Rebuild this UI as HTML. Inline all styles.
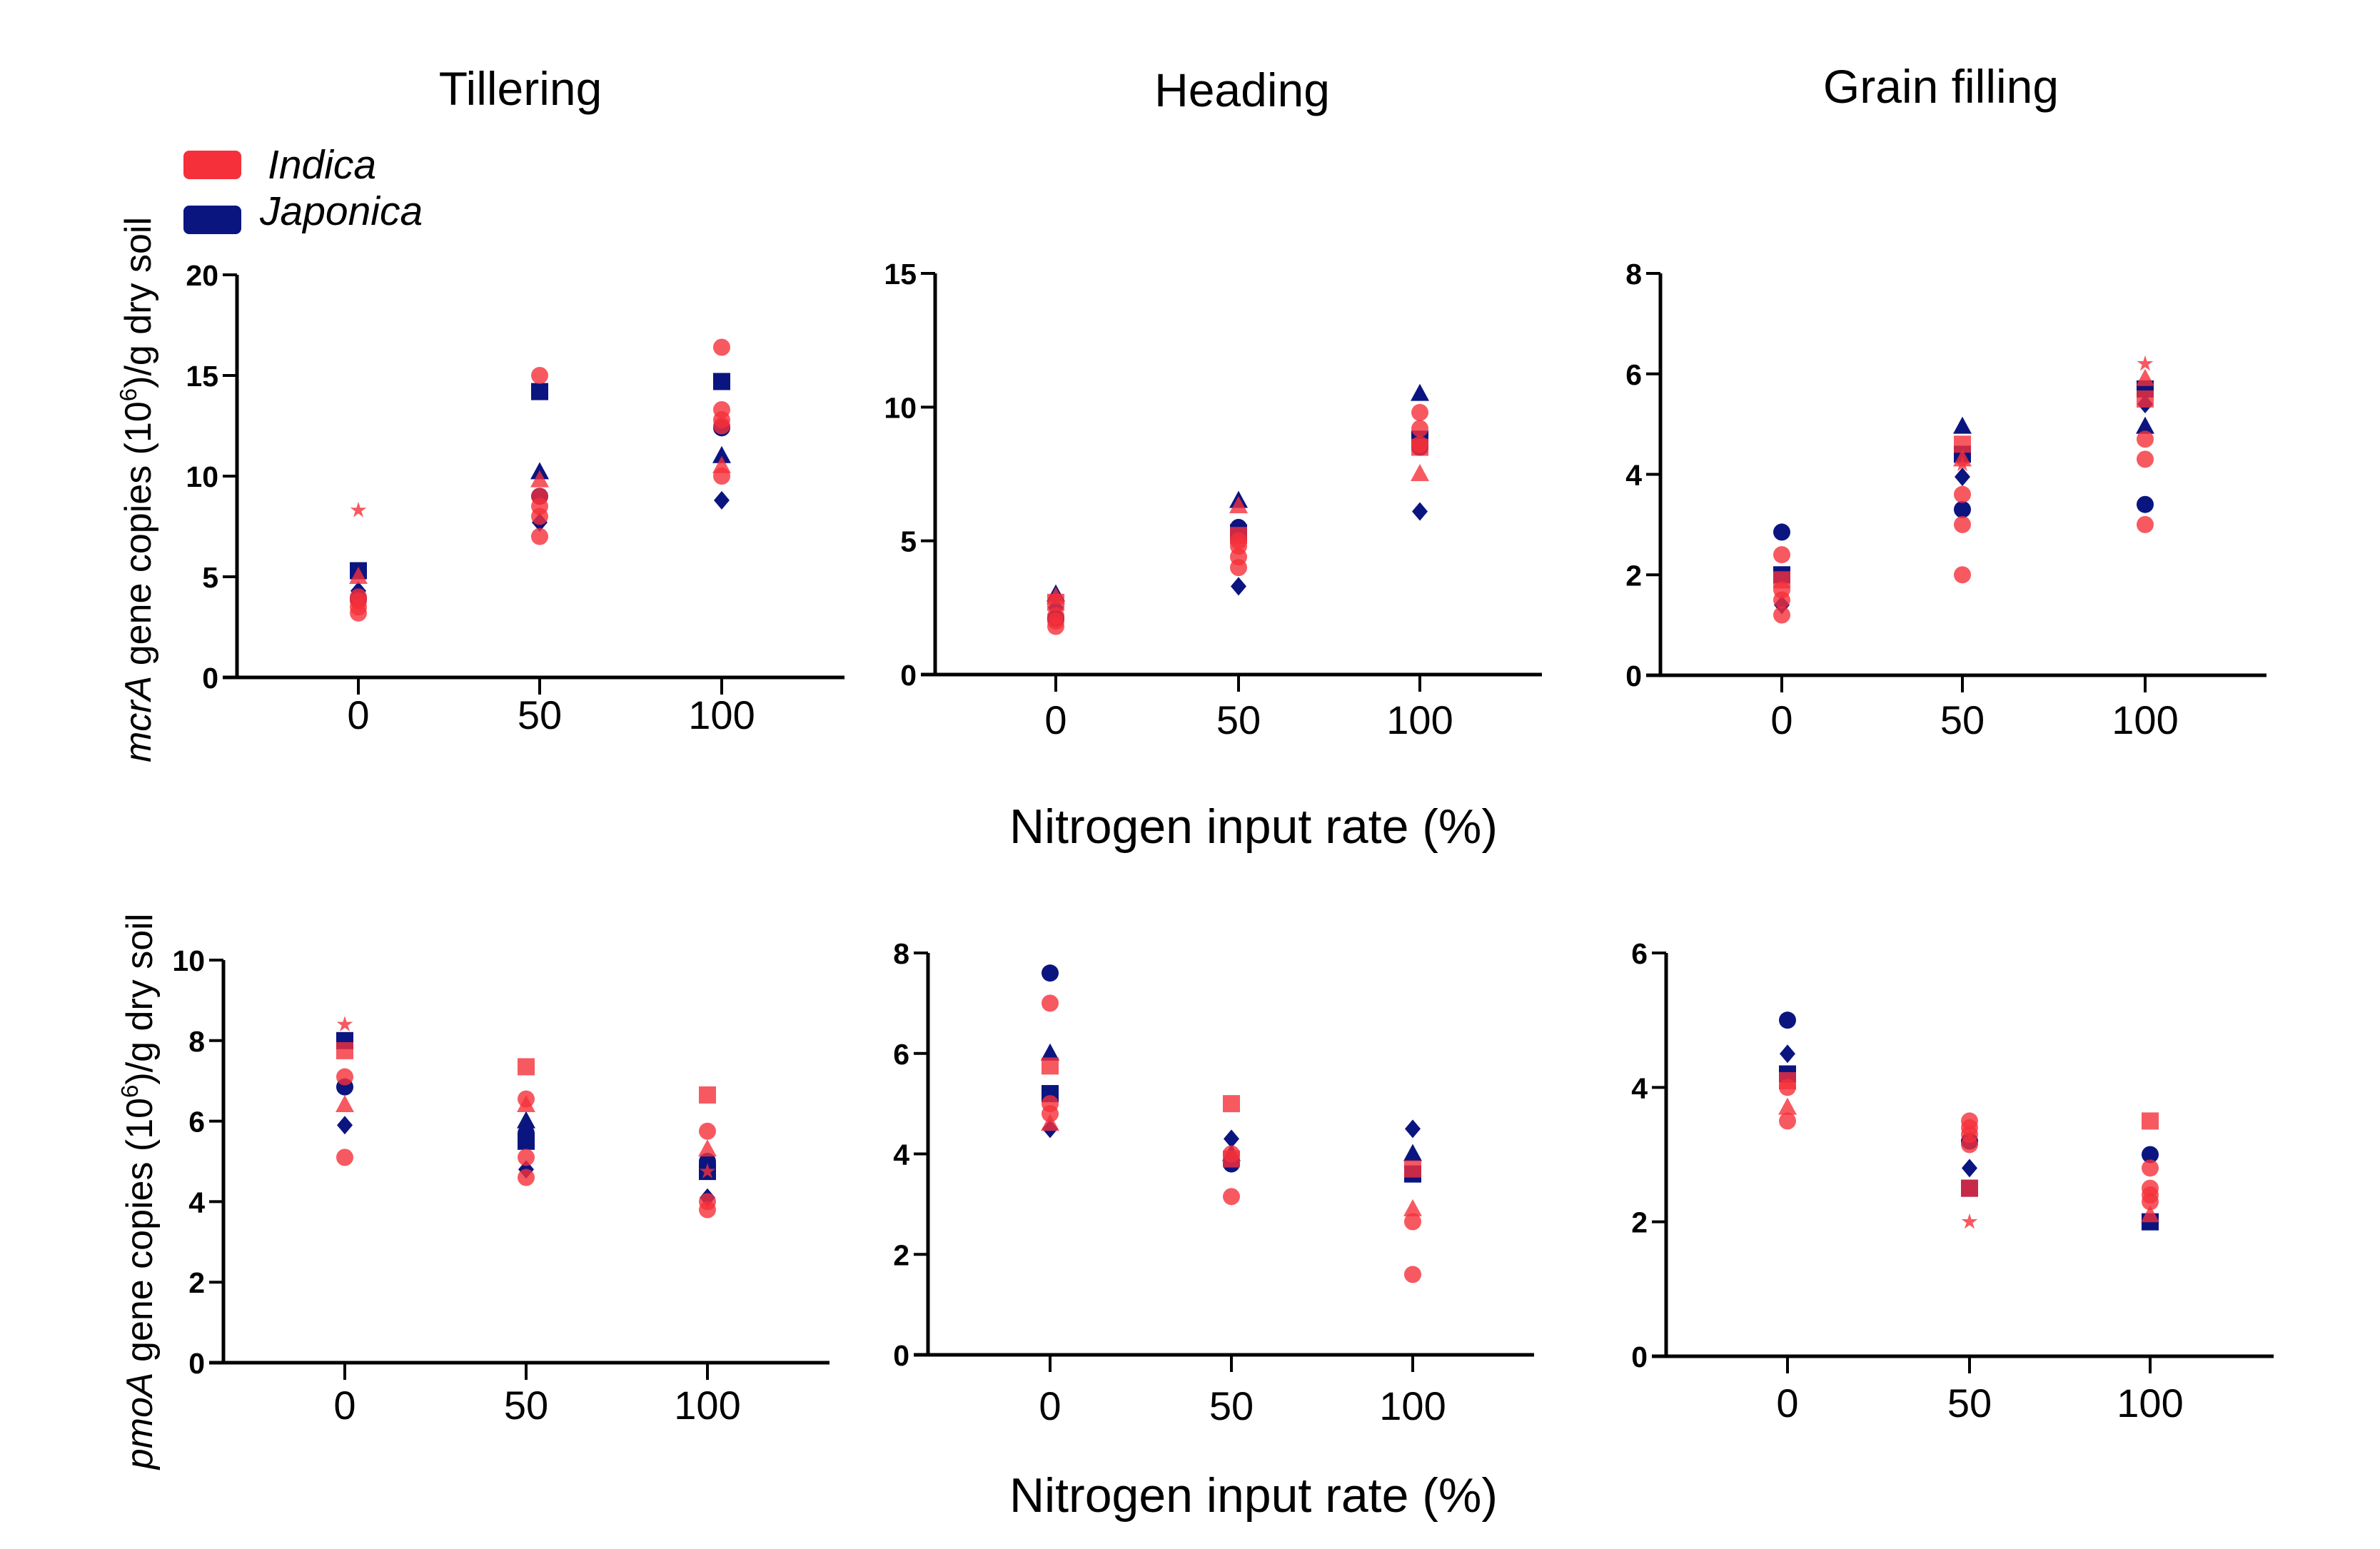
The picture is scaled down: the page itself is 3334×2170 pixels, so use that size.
<!DOCTYPE html>
<html><head><meta charset="utf-8"><style>
html,body{margin:0;padding:0;background:#fff;}
svg{display:block;font-family:"Liberation Sans",Arial,sans-serif;}
</style></head><body>
<svg id="fig" width="3334" height="2170" viewBox="0 0 3334 2170" xmlns="http://www.w3.org/2000/svg">
<rect width="3334" height="2170" fill="#fff"/>
<text x="729" y="147" font-size="66" text-anchor="middle">Tillering</text>
<text x="1740" y="149" font-size="66" text-anchor="middle">Heading</text>
<text x="2719" y="144" font-size="66" text-anchor="middle">Grain filling</text>
<g>
<rect x="257" y="211" width="81" height="40" rx="8" fill="#f5303a"/>
<text x="375" y="250" font-size="57" font-style="italic">Indica</text>
<rect x="257" y="288" width="81" height="40" rx="8" fill="#0b1580"/>
<text x="364" y="315" font-size="57" font-style="italic">Japonica</text>
</g>
<text transform="translate(211,686) rotate(-90)" font-size="52" text-anchor="middle"><tspan font-style="italic">mcrA</tspan> gene copies (10<tspan font-size="33" dy="-20">6</tspan><tspan dy="20">)/g dry soil</tspan></text>
<text transform="translate(213,1669) rotate(-90)" font-size="52" text-anchor="middle"><tspan font-style="italic">pmoA</tspan> gene copies (10<tspan font-size="33" dy="-20">6</tspan><tspan dy="20">)/g dry soil</tspan></text>
<text x="1756" y="1181" font-size="68" text-anchor="middle">Nitrogen input rate (%)</text>
<text x="1756" y="2118" font-size="68" text-anchor="middle">Nitrogen input rate (%)</text>
</svg>
<script>
const xCategories = [0, 50, 100];
const xTickLabels = ["0", "50", "100"];
// each point: [nitrogen rate, value, marker]
const mcrTillIndica = [[0,8.3,'star'],[0,3.2,'circle'],[0,3.5,'circle'],[0,3.8,'circle'],[0,4.0,'circle'],[0,5.0,'triangle'],[50,15.0,'circle'],[50,7.0,'circle'],[50,8.0,'circle'],[50,8.5,'circle'],[50,9.0,'circle'],[50,9.8,'triangle'],[100,16.4,'circle'],[100,13.3,'circle'],[100,12.8,'circle'],[100,12.5,'circle'],[100,10.0,'circle'],[100,10.5,'triangle']];
const mcrTillJaponica = [[0,5.3,'square'],[0,4.3,'diamond'],[0,3.9,'circle'],[50,14.2,'square'],[50,10.2,'triangle'],[50,9.0,'circle'],[50,7.7,'diamond'],[100,14.7,'square'],[100,12.4,'circle'],[100,11.0,'triangle'],[100,8.8,'diamond']];
const mcrHeadIndica = [[0,1.8,'circle'],[0,2.0,'circle'],[0,2.2,'circle'],[0,2.7,'square'],[0,2.9,'triangle'],[50,4.0,'circle'],[50,4.4,'circle'],[50,4.8,'circle'],[50,5.0,'circle'],[50,5.2,'square'],[50,6.3,'triangle'],[100,9.8,'circle'],[100,9.2,'circle'],[100,8.6,'circle'],[100,8.5,'square'],[100,7.5,'triangle']];
const mcrHeadJaponica = [[0,2.5,'diamond'],[0,2.1,'circle'],[0,3.0,'triangle'],[50,6.5,'triangle'],[50,5.5,'circle'],[50,5.3,'square'],[50,3.3,'diamond'],[100,10.5,'triangle'],[100,8.8,'square'],[100,8.5,'circle'],[100,6.1,'diamond']];
const mcrGrainIndica = [[0,2.4,'circle'],[0,1.7,'circle'],[0,1.5,'circle'],[0,1.2,'circle'],[0,1.9,'square'],[50,3.6,'circle'],[50,3.0,'circle'],[50,2.0,'circle'],[50,4.6,'square'],[50,4.3,'triangle'],[50,4.2,'star'],[100,6.2,'star'],[100,5.9,'triangle'],[100,5.5,'square'],[100,4.7,'circle'],[100,4.3,'circle'],[100,3.0,'circle']];
const mcrGrainJaponica = [[0,2.85,'circle'],[0,2.0,'square'],[0,1.4,'diamond'],[50,4.95,'triangle'],[50,4.4,'square'],[50,3.95,'diamond'],[50,3.3,'circle'],[100,5.7,'square'],[100,5.4,'diamond'],[100,4.95,'triangle'],[100,3.4,'circle']];
const pmoTillIndica = [[0,8.4,'star'],[0,7.75,'square'],[0,7.1,'circle'],[0,6.4,'triangle'],[0,5.1,'circle'],[50,7.35,'square'],[50,6.55,'circle'],[50,6.4,'triangle'],[50,5.1,'circle'],[50,4.6,'circle'],[100,6.65,'square'],[100,5.75,'circle'],[100,5.3,'triangle'],[100,4.75,'star'],[100,4.0,'circle'],[100,3.8,'circle']];
const pmoTillJaponica = [[0,8.0,'square'],[0,6.85,'circle'],[0,5.9,'diamond'],[50,6.0,'triangle'],[50,5.7,'circle'],[50,5.5,'square'],[50,4.8,'diamond'],[100,5.0,'circle'],[100,4.75,'square'],[100,4.1,'diamond']];
const pmoHeadIndica = [[0,7.0,'circle'],[0,5.75,'square'],[0,5.0,'circle'],[0,4.8,'circle'],[0,4.6,'triangle'],[50,5.0,'square'],[50,4.0,'circle'],[50,3.9,'square'],[50,3.15,'circle'],[100,3.7,'square'],[100,2.9,'triangle'],[100,2.65,'circle'],[100,1.6,'circle']];
const pmoHeadJaponica = [[0,7.6,'circle'],[0,6.0,'triangle'],[0,5.2,'square'],[0,4.5,'diamond'],[50,4.3,'diamond'],[50,4.0,'triangle'],[50,3.8,'circle'],[100,4.5,'diamond'],[100,4.0,'triangle'],[100,3.6,'square']];
const pmoGrainIndica = [[0,4.1,'square'],[0,4.0,'circle'],[0,3.7,'triangle'],[0,3.5,'circle'],[50,3.5,'circle'],[50,3.4,'circle'],[50,3.3,'circle'],[50,3.15,'circle'],[50,2.5,'square'],[50,2.0,'star'],[100,3.5,'square'],[100,2.8,'circle'],[100,2.5,'circle'],[100,2.4,'circle'],[100,2.3,'circle'],[100,2.1,'triangle']];
const pmoGrainJaponica = [[0,5.0,'circle'],[0,4.5,'diamond'],[0,4.2,'square'],[50,3.2,'circle'],[50,2.8,'diamond'],[50,2.5,'square'],[100,3.0,'circle'],[100,2.0,'square']];
const mcrTillTicks = [0,5,10,15,20];
const mcrHeadTicks = [0,5,10,15];
const mcrGrainTicks = [0,2,4,6,8];
const pmoTillTicks = [0,2,4,6,8,10];
const pmoHeadTicks = [0,2,4,6,8];
const pmoGrainTicks = [0,2,4,6];

const NS = "http://www.w3.org/2000/svg";
const svg = document.getElementById('fig');
function mk(tag, attrs, parent){const e=document.createElementNS(NS,tag);for(const k in attrs)e.setAttribute(k,attrs[k]);parent.appendChild(e);return e;}

const panels = [
 {name:'mcra-tillering', ax:332, top:385, bot:949, xend:1183, px:[502,756,1011], tb:1021, ticks:mcrTillTicks, ind:mcrTillIndica, jap:mcrTillJaponica},
 {name:'mcra-heading', ax:1310, top:383, bot:945, xend:2160, px:[1479,1735,1989], tb:1028, ticks:mcrHeadTicks, ind:mcrHeadIndica, jap:mcrHeadJaponica},
 {name:'mcra-grain-filling', ax:2326, top:383, bot:946, xend:3175, px:[2496,2749,3005], tb:1028, ticks:mcrGrainTicks, ind:mcrGrainIndica, jap:mcrGrainJaponica},
 {name:'pmoa-tillering', ax:313, top:1345, bot:1909, xend:1162, px:[483,737,991], tb:1988, ticks:pmoTillTicks, ind:pmoTillIndica, jap:pmoTillJaponica},
 {name:'pmoa-heading', ax:1300, top:1335, bot:1898, xend:2149, px:[1471,1725,1979], tb:1989, ticks:pmoHeadTicks, ind:pmoHeadIndica, jap:pmoHeadJaponica},
 {name:'pmoa-grain-filling', ax:2334, top:1335, bot:1900, xend:3185, px:[2504,2759,3012], tb:1985, ticks:pmoGrainTicks, ind:pmoGrainIndica, jap:pmoGrainJaponica}
];

function marker(g, shape, cx, cy, fill, op){
  let e; const r=12;
  if(shape==='circle') e=mk('circle',{cx:cx,cy:cy,r:r},g);
  else if(shape==='square') e=mk('rect',{x:cx-12,y:cy-12,width:24,height:24},g);
  else if(shape==='triangle') e=mk('polygon',{points:`${cx},${cy-14} ${cx+13},${cy+10} ${cx-13},${cy+10}`},g);
  else if(shape==='diamond') e=mk('polygon',{points:`${cx},${cy-13} ${cx+11},${cy} ${cx},${cy+13} ${cx-11},${cy}`},g);
  else { let pts=[];for(let i=0;i<10;i++){const a=-Math.PI/2+i*Math.PI/5;const rr=i%2?4.5:12;pts.push((cx+rr*Math.cos(a)).toFixed(1)+','+(cy+rr*Math.sin(a)).toFixed(1));} e=mk('polygon',{points:pts.join(' ')},g);}
  e.setAttribute('fill',fill); e.setAttribute('fill-opacity',op);
  return e;
}

panels.forEach(p=>{
  const g=mk('g',{},svg);
  
  
  const ymax=p.ticks[p.ticks.length-1];
  const ys=v=>p.bot-(v/ymax)*(p.bot-p.top);
  const xs=c=>p.px[xCategories.indexOf(c)];
  const ya=mk('line',{x1:p.ax,y1:p.top,x2:p.ax,y2:p.bot+2,stroke:'#000','stroke-width':5},g);
  
  
  const xa=mk('line',{x1:p.ax-20,y1:p.bot,x2:p.xend,y2:p.bot,stroke:'#000','stroke-width':5},g);
  
  
  p.ticks.forEach(t=>{
    const y=ys(t);
    mk('line',{x1:p.ax-20,y1:y,x2:p.ax,y2:y,stroke:'#000','stroke-width':4},g);
    const tx=mk('text',{x:p.ax-26,y:y+15,'font-size':41,'font-weight':'bold','text-anchor':'end'},g);
    tx.textContent=String(t);
    
    
  });
  xCategories.forEach((c,i)=>{
    const x=xs(c);
    mk('line',{x1:x,y1:p.bot,x2:x,y2:p.bot+24,stroke:'#000','stroke-width':4},g);
    const tx=mk('text',{x:x,y:p.tb,'font-size':56,'text-anchor':'middle'},g);
    tx.textContent=xTickLabels[i];
    
    
  });
  p.jap.forEach(d=>{
    const m=marker(g,d[2],xs(d[0]),ys(d[1]),'#0b1580',1);
    
    
  });
  p.ind.forEach(d=>{
    const m=marker(g,d[2],xs(d[0]),ys(d[1]),'#f5303a',0.8);
    
    
  });
});
</script>
</body></html>
